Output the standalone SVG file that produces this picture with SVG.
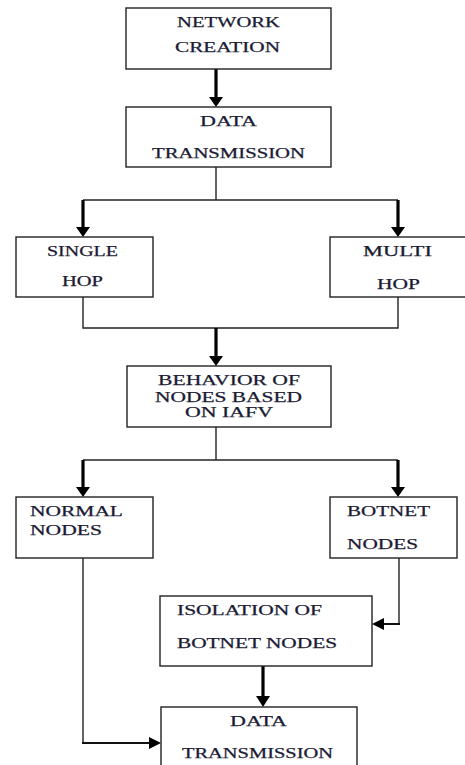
<svg xmlns="http://www.w3.org/2000/svg" width="465" height="765" viewBox="0 0 465 765">
<style>
.box{fill:#fff;stroke:#222;stroke-width:1.4}
.t{font-family:"Liberation Serif","Times New Roman",serif;font-size:15px;fill:#1a1a33;stroke:#1a1a33;stroke-width:0.25}
.c{text-anchor:middle}
.thin{fill:none;stroke:#222;stroke-width:1.4}
.thick{fill:none;stroke:#000;stroke-width:3.2}
.mid{fill:none;stroke:#111;stroke-width:2}
.head{fill:#000}
</style>
<rect width="465" height="765" fill="#fff"/>
<g id="connectors">
  <line class="thick" x1="216" y1="69" x2="216" y2="99"/>
  <polygon class="head" points="209,97 223,97 216,107"/>
  <polyline class="thin" points="216,167 216,200"/>
  <polyline class="thin" points="83,200 398,200"/>
  <line class="thick" x1="83" y1="200" x2="83" y2="229"/>
  <polygon class="head" points="76,227 90,227 83,237"/>
  <line class="thick" x1="398" y1="200" x2="398" y2="229"/>
  <polygon class="head" points="391,227 405,227 398,237"/>
  <polyline class="thin" points="83,297 83,328 398,328 398,297"/>
  <line class="thick" x1="216" y1="328" x2="216" y2="358"/>
  <polygon class="head" points="209,356 223,356 216,366"/>
  <polyline class="thin" points="216,427 216,460"/>
  <polyline class="thin" points="83,460 398,460"/>
  <line class="thick" x1="83" y1="460" x2="83" y2="489"/>
  <polygon class="head" points="76,487 90,487 83,497"/>
  <line class="thick" x1="398" y1="460" x2="398" y2="489"/>
  <polygon class="head" points="391,487 405,487 398,497"/>
  <polyline class="thin" points="83,558 83,743"/>
  <polyline class="mid" points="82,743 152,743"/>
  <polygon class="head" points="149,737 149,749 161,743"/>
  <polyline class="thin" points="399,558 399,624"/>
  <polyline class="mid" points="400,624 381,624"/>
  <polygon class="head" points="384,618 384,630 372,624"/>
  <line class="thick" x1="263" y1="666" x2="263" y2="698"/>
  <polygon class="head" points="256,696 270,696 263,707"/>
</g>
<g id="network-creation">
  <rect class="box" x="126" y="8" width="205" height="61"/>
  <text class="t" x="177" y="27" textLength="103" lengthAdjust="spacingAndGlyphs">NETWORK</text>
  <text class="t" x="175" y="52" textLength="105" lengthAdjust="spacingAndGlyphs">CREATION</text>
</g>
<g id="data-transmission-1">
  <rect class="box" x="126" y="107" width="205" height="60"/>
  <text class="t" x="200" y="126" textLength="57" lengthAdjust="spacingAndGlyphs">DATA</text>
  <text class="t" x="152" y="158" textLength="153" lengthAdjust="spacingAndGlyphs">TRANSMISSION</text>
</g>
<g id="single-hop">
  <rect class="box" x="16" y="237" width="137" height="60"/>
  <text class="t" x="47" y="256" textLength="71" lengthAdjust="spacingAndGlyphs">SINGLE</text>
  <text class="t" x="62" y="286" textLength="41" lengthAdjust="spacingAndGlyphs">HOP</text>
</g>
<g id="multi-hop">
  <rect class="box" x="330" y="237" width="140" height="60"/>
  <text class="t" x="363" y="256" textLength="69" lengthAdjust="spacingAndGlyphs">MULTI</text>
  <text class="t" x="377" y="289" textLength="43" lengthAdjust="spacingAndGlyphs">HOP</text>
</g>
<g id="behavior">
  <rect class="box" x="127" y="366" width="204" height="61"/>
  <text class="t" x="158" y="385" textLength="142" lengthAdjust="spacingAndGlyphs">BEHAVIOR OF</text>
  <text class="t" x="155" y="402" textLength="147" lengthAdjust="spacingAndGlyphs">NODES BASED</text>
  <text class="t" x="185" y="417" textLength="88" lengthAdjust="spacingAndGlyphs">ON IAFV</text>
</g>
<g id="normal-nodes">
  <rect class="box" x="16" y="497" width="137" height="61"/>
  <text class="t" x="30" y="516" textLength="93" lengthAdjust="spacingAndGlyphs">NORMAL</text>
  <text class="t" x="30" y="535" textLength="72" lengthAdjust="spacingAndGlyphs">NODES</text>
</g>
<g id="botnet-nodes">
  <rect class="box" x="330" y="497" width="127" height="61"/>
  <text class="t" x="347" y="516" textLength="83" lengthAdjust="spacingAndGlyphs">BOTNET</text>
  <text class="t" x="347" y="549" textLength="71" lengthAdjust="spacingAndGlyphs">NODES</text>
</g>
<g id="isolation">
  <rect class="box" x="160" y="596" width="212" height="70"/>
  <text class="t" x="177" y="615" textLength="145" lengthAdjust="spacingAndGlyphs">ISOLATION OF</text>
  <text class="t" x="177" y="648" textLength="160" lengthAdjust="spacingAndGlyphs">BOTNET NODES</text>
</g>
<g id="data-transmission-2">
  <rect class="box" x="161" y="707" width="196" height="70"/>
  <text class="t" x="230" y="726" textLength="57" lengthAdjust="spacingAndGlyphs">DATA</text>
  <text class="t" x="182" y="758" textLength="151" lengthAdjust="spacingAndGlyphs">TRANSMISSION</text>
</g>
</svg>
